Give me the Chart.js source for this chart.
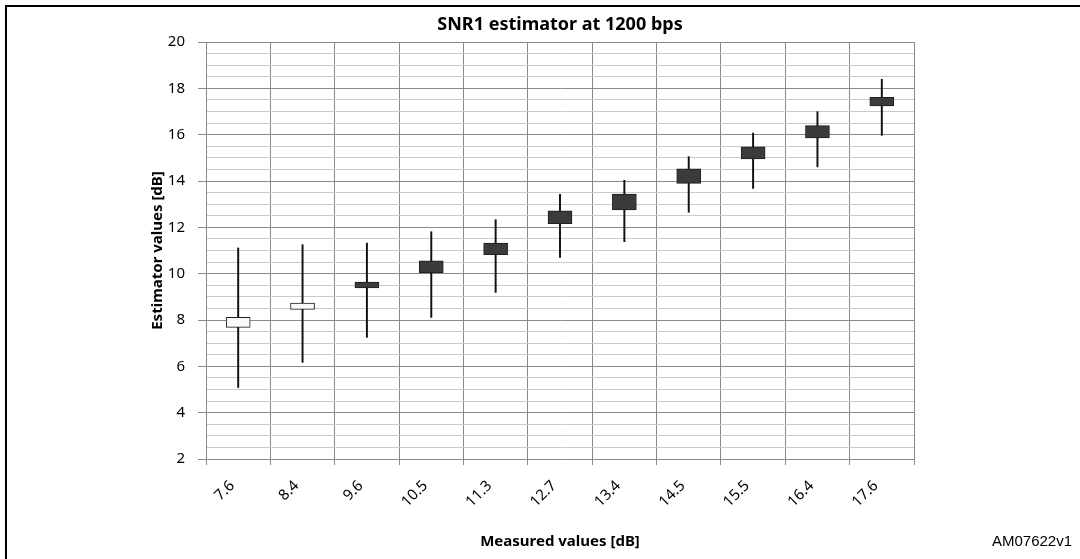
<!DOCTYPE html>
<html>
<head>
<meta charset="utf-8">
<script src="https://cdn.jsdelivr.net/npm/chart.js@4.4.1/dist/chart.umd.min.js"></script>
<style>
    html, body { margin: 0; padding: 0; background: #fff; }
    #wrap { position: relative; width: 1080px; height: 559px; }
    #frame {
        position: absolute; left: 5px; top: 5px; right: -4px; bottom: -4px;
        border-top: 2px solid #000; border-left: 2px solid #000;
    }
    canvas { position: absolute; left: 0; top: 0; }
</style>
</head>
<body>
<div id="wrap">
    <div id="frame"></div>
    <canvas id="chartSnr" width="1080" height="559"></canvas>
</div>
<script>
(function () {
    'use strict';

    /* ── Datos ────────────────────────────────────────── */
    var measured = ['7.6', '8.4', '9.6', '10.5', '11.3', '12.7', '13.4', '14.5', '15.5', '16.4', '17.6'];
    var opens    = [7.68, 8.46, 9.64, 10.55, 11.32, 12.71, 13.44, 14.52, 15.48, 16.39, 17.61];
    var closes   = [8.11, 8.73, 9.38, 10.03, 10.82, 12.16, 12.75, 13.90, 14.95, 15.86, 17.24];
    var highs    = [11.11, 11.25, 11.32, 11.81, 12.33, 13.42, 14.03, 15.05, 16.07, 16.99, 18.39];
    var lows     = [5.09, 6.17, 7.25, 8.11, 9.19, 10.70, 11.38, 12.65, 13.68, 14.61, 15.97];

    var DARK     = '#3b3b3b';
    var LIGHT    = '#f8f9fa';
    var MAJOR    = '#8a8a8a';
    var MINOR    = '#cacaca';
    var FONT     = '"Noto Sans", "Open Sans", sans-serif';

    var wicks  = lows.map(function (l, i) { return [l, highs[i]]; });
    var bodies = opens.map(function (o, i) { return [o, closes[i]]; });
    var bodyFill = opens.map(function (o, i) { return closes[i] >= o ? LIGHT : DARK; });

    /* ── Textos fijos: título y referencia ───────────── */
    var textPlugin = {
        id: 'textos',
        afterDraw: function (chart) {
            var c = chart.ctx;
            var area = chart.chartArea;
            c.save();
            c.fillStyle = '#000';
            c.textAlign = 'center';
            c.textBaseline = 'middle';
            c.font = 'bold 18px ' + FONT;
            c.fillText('SNR1 estimator at 1200 bps', (area.left + area.right) / 2, 25);
            c.textAlign = 'right';
            c.font = '15px "Liberation Sans", Arial, sans-serif';
            c.fillText('AM07622v1', 1072, 542);
            c.restore();
        }
    };

    new Chart(document.getElementById('chartSnr'), {
        type: 'bar',
        data: {
            labels: measured,
            datasets: [
                {
                    label: 'High-Low',
                    data: wicks,
                    backgroundColor: '#111',
                    barThickness: 1.3,
                    grouped: false,
                    order: 2
                },
                {
                    label: 'Open-Close',
                    data: bodies,
                    backgroundColor: bodyFill,
                    borderColor: '#1e1e1e',
                    borderWidth: 1,
                    borderSkipped: false,
                    barThickness: 24,
                    grouped: false,
                    order: 1
                }
            ]
        },
        options: {
            responsive: false,
            animation: false,
            layout: { padding: { left: 143, right: 166, top: 42, bottom: 0 } },
            plugins: {
                legend: { display: false },
                tooltip: { enabled: false },
                title: { display: false }
            },
            scales: {
                x: {
                    afterFit: function (s) { s.height = 100; },
                    grid: { color: MAJOR, offset: true, tickLength: 6 },
                    border: { color: MAJOR },
                    ticks: {
                        color: '#000',
                        font: { family: FONT, size: 15 },
                        minRotation: 45,
                        maxRotation: 45,
                        padding: 12,
                        labelOffset: -6
                    },
                    title: {
                        display: true,
                        text: 'Measured values [dB]',
                        color: '#000',
                        font: { family: FONT, size: 15, weight: 'bold' },
                        padding: { top: 0, bottom: 8 }
                    }
                },
                y: {
                    min: 2,
                    max: 20,
                    afterFit: function (s) { s.width = 63; },
                    grid: {
                        color: function (ctx) {
                            return ctx.tick && ctx.tick.value % 2 === 0 ? MAJOR : MINOR;
                        },
                        tickColor: function (ctx) {
                            return ctx.tick && ctx.tick.value % 2 === 0 ? MAJOR : 'rgba(0,0,0,0)';
                        },
                        tickLength: 8
                    },
                    border: { color: MAJOR },
                    ticks: {
                        stepSize: 0.5,
                        autoSkip: false,
                        color: '#000',
                        padding: 13,
                        font: { family: FONT, size: 15 },
                        callback: function (v) { return v % 2 === 0 ? v : ''; }
                    },
                    title: {
                        display: true,
                        text: 'Estimator values [dB]',
                        color: '#000',
                        font: { family: FONT, size: 15, weight: 'bold' },
                        padding: { top: 6, bottom: 0 }
                    }
                }
            }
        },
        plugins: [textPlugin]
    });
})();
</script>
</body>
</html>
